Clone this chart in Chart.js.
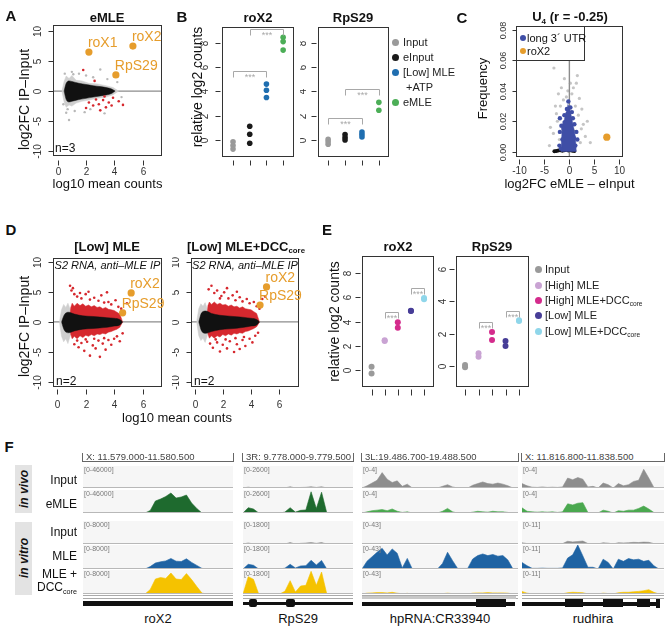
<!DOCTYPE html>
<html><head><meta charset="utf-8"><title>MLE RNA binding figure</title>
<script src="https://cdn.jsdelivr.net/npm/chart.js"></script>
<style>
html,body{margin:0;padding:0;background:#fff;}
body{position:relative;width:669px;height:627px;overflow:hidden;font-family:"Liberation Sans",Arial,Helvetica,sans-serif;color:#111;}
canvas{position:absolute;}
.t{position:absolute;white-space:nowrap;line-height:1;}
sub{font-size:0.6em;vertical-align:-0.35em;line-height:0;}
</style></head><body>
<script>
// ================= DATA =================
// Panel A (eMLE MA plot)
const A_xTicks=[0,2,4,6], A_xLabels=['0','2','4','6'];
const A_yTicks=[-10,-5,0,5,10], A_yLabels=['-10','-5','0','5','10'];
const A_genes=['roX1','roX2','RpS29'], A_geneX=[2.2,5.3,4.1], A_geneY=[6.5,7.5,2.7];
const A_cloudX=[0.45,0.6,0.8,1.0,1.5,2.0,2.5,3.0,3.5,3.8,4.05];
const A_cloudUp=[0,1.3,1.7,1.6,1.3,1.1,0.9,0.75,0.55,0.35,0];
const A_cloudLo=[0,-1.4,-1.8,-1.7,-1.4,-1.2,-1.0,-0.8,-0.6,-0.4,0];
const A_haloX=[0.3,0.45,0.6,0.8,1.0,1.3,1.7,2.2,2.8,3.4,3.9,4.3];
const A_haloUp=[0,1.6,2.5,2.1,2.6,1.8,1.7,1.3,1.2,0.9,0.6,0];
const A_haloLo=[0,-1.8,-2.7,-2.3,-2.5,-2.0,-1.7,-1.5,-1.2,-1.0,-0.6,0];
const A_redX=[1.8,2.6,2.2,2.5,2.9,3.2,3.4,3.0,3.6,3.9,4.3,4.6,3.8,2.7,3.3,2.0];
const A_redY=[3.5,1.7,-1.9,-2.4,-2.2,-1.5,-2.7,-3.2,-1.9,-1.1,-1.7,-2.3,-2.4,-1.4,-0.9,-2.8];
const A_grayX=[0.8,3.0,2.0,1.5,2.5,1.2,3.5,4.2,4.5,1.0,3.3,2.3,0.6,1.9,0.5,0.7,1.1,0.4];
const A_grayY=[-4.8,3.6,2.6,2.9,2.3,-3.3,2.0,1.5,-1.0,3.2,-3.7,-3.0,-3.6,-3.5,2.9,-3.0,2.8,-2.2];

// Panel B (relative log2 counts)
const B_groups=['Input','eInput','[Low] MLE','eMLE'];
const B_yTicks=[0,2,4,6,8], B_yLabels=['0','2','4','6','8'];
const B_roX2=[[-0.15,-0.45,-0.75],[1.13,0.47,-0.27],[4.6,4.1,3.5],[8.45,8.1,7.4]];
const B_RpS29=[[0.05,-0.15,-0.35],[0.45,0.2,0.0],[0.65,0.45,0.25],[3.1,2.45]];
const B_roX2_sig=[[1,3,5.7],[2,4,9.1]];
const B_RpS29_sig=[[1,3,1.8],[2,4,4.2]];

// Panel C (U4 frequency vs log2FC)
const C_xTicks=[-10,-5,0,5,10], C_xLabels=['-10','-5','0','5','10'];
const C_yTicks=[0,0.02,0.04,0.06,0.08], C_yLabels=['0.00','0.02','0.04','0.06','0.08'];
const C_blobX=[-1.7,-1.5,-1.3,-1.0,-0.8,-0.5,-0.3,0,0.3,0.6,0.9,1.2,1.4];
const C_blobTop=[0,0.012,0.02,0.021,0.025,0.027,0.031,0.029,0.025,0.02,0.015,0.01,0];
const C_blueX=[-1.9,-1.9,1.4,1.6,-2.0,-1.6,-1.4,1.0,0.7,-1.0,-0.5,0.2,-0.2,1.2,-1.7,0.5,-1.2,0.9];
const C_blueY=[0.022,0.013,0.013,0.008,0.004,0.017,0.008,0.018,0.022,0.024,0.028,0.029,0.033,0.004,0.002,0.026,0.015,0.009];
const C_grayX=[-3.1,1.4,-1.0,0.8,-2.2,2.0,-2.8,2.5,-2.4,2.8,-3.2,3.2,-2.0,2.2,1.8,-1.8,0.5,-0.6,3.6,-3.8,4.2,-4.0,1.2,-1.2,-2.6,2.4,-0.3,0.2,1.6,-1.6];
const C_grayY=[0.055,0.045,0.048,0.042,0.038,0.035,0.03,0.028,0.02,0.018,0.012,0.01,0.008,0.006,0.024,0.03,0.038,0.036,0.02,0.016,0.006,0.004,0.03,0.034,0.025,0.015,0.04,0.045,0.05,0.042];
const C_blackX=[-3.0,-2.6,-2.2,-1.8,-1.4,-1.0,-0.6,-0.2,0.2,0.6,1.0,-0.4,0.3,-1.1,0.6,-0.2,0.1,-0.8,0.9,-1.6];
const C_blackY=[0.0003,0.0005,0.0008,0.001,0.0006,0.001,0.0012,0.0008,0.001,0.0006,0.0004,0.006,0.004,0.012,0.014,0.02,0.009,0.003,0.002,0.0015];
const C_roX2X=[7.5], C_roX2Y=[0.0095];
const C_legend=['long 3\u00b4 UTR','roX2'];

// Panel D (S2 RNA, anti-MLE IP MA plots)
const D_xTicks=[0,2,4,6], D_xLabels=['0','2','4','6'];
const D_yTicks=[-10,-5,0,5,10], D_yLabels=['-10','-5','0','5','10'];
const D1_genes=['roX2','RpS29'], D1_geneX=[5.2,4.6], D1_geneY=[4.8,1.5];
const D2_genes=['roX2','RpS29'], D2_geneX=[5.1,4.64], D2_geneY=[5.8,2.8];
const D_cloudX=[0.3,0.5,0.8,1.2,1.8,2.5,3.0,3.5,4.0,4.4,4.6];
const D1_cloudUp=[0,1.2,1.6,1.3,1.0,0.9,0.8,0.7,0.6,0.4,0];
const D1_cloudLo=[0,-1.4,-1.8,-1.5,-1.2,-1.1,-1.0,-0.9,-0.7,-0.5,0];
const D2_cloudUp=[0,1.5,1.8,1.4,1.1,0.95,0.85,0.75,0.6,0.4,0];
const D2_cloudLo=[0,-1.5,-1.9,-1.6,-1.3,-1.15,-1.05,-0.9,-0.7,-0.5,0];
const D_haloX=[0.15,0.3,0.45,0.6,0.75,0.9,1.1];
const D1_haloUp=[0,2.0,2.9,2.4,3.1,2.2,0], D1_haloLo=[0,-2.4,-3.3,-2.8,-3.6,-2.4,0];
const D2_haloUp=[0,2.2,3.0,2.6,3.2,2.2,0], D2_haloLo=[0,-2.3,-3.1,-2.7,-3.4,-2.3,0];
const D_bandX=[0.85,0.95,1.05,1.2,1.4,1.6,1.8,2.0,2.2,2.4,2.6,2.8,3.0,3.2,3.4,3.6,3.8,4.0,4.2,4.4,4.6];
const D1_bandUp=[0,2.4,3.1,2.6,3.1,2.7,3.0,2.6,2.8,2.5,2.7,2.4,2.5,2.2,2.4,2.1,2.0,1.9,1.6,1.3,0];
const D1_bandLo=[0,-2.1,-2.8,-2.4,-2.8,-2.3,-2.6,-2.2,-2.4,-2.1,-2.3,-2.0,-2.1,-1.9,-2.0,-1.7,-1.6,-1.4,-1.2,-0.9,0];
const D2_bandUp=[0,2.7,3.3,2.9,3.3,2.9,3.1,2.8,2.9,2.6,2.8,2.5,2.6,2.3,2.5,2.2,2.1,2.0,1.7,1.4,0];
const D2_bandLo=[0,-2.0,-2.7,-2.3,-2.7,-2.3,-2.5,-2.1,-2.3,-2.0,-2.2,-1.9,-2.0,-1.8,-1.9,-1.6,-1.5,-1.3,-1.1,-0.8,0];
const D1_redX=[0.9,1.0,1.2,1.1,1.4,1.7,2.0,2.3,2.6,2.9,3.1,3.3,3.6,3.8,4.1,4.3,4.5,2.2,1.6,3.5,4.9,4.7,1.2,1.5,1.7,1.9,2.1,2.3,2.5,2.7,2.9,3.0,3.2,3.4,3.6,3.8,4.0,4.2,4.4,2.0,2.6,3.3,1.4,4.6];
const D1_redY=[6.0,5.2,4.6,5.6,4.2,3.9,4.6,3.7,4.0,3.5,4.4,3.2,3.3,2.9,3.6,2.5,2.2,5.0,4.8,4.9,3.1,1.8,-3.7,-4.2,-3.5,-4.8,-3.3,-5.6,-3.9,-4.4,-3.1,-5.8,-3.6,-4.6,-3.0,-3.8,-2.8,-2.4,-3.2,-2.9,-2.8,-2.7,-3.1,-1.9];
const D2_redX=[1.0,1.2,1.4,1.6,1.9,2.1,2.4,2.7,2.9,3.2,3.4,3.7,3.9,4.2,4.4,4.8,5.0,4.6,2.3,3.0,1.8,1.1,1.3,1.6,1.8,2.0,2.3,2.5,2.8,3.0,3.2,3.4,3.6,3.9,4.1,4.3,2.2,2.9,3.5,4.5,1.5];
const D2_redY=[5.4,6.0,4.8,5.2,4.3,4.9,3.9,4.4,3.6,4.1,3.4,3.8,3.1,3.3,2.6,3.8,4.2,2.2,5.6,5.0,3.9,-3.6,-4.3,-3.4,-4.9,-3.8,-4.4,-3.2,-5.0,-3.7,-4.5,-3.0,-4.0,-2.8,-3.4,-2.3,-2.9,-2.7,-2.5,-1.8,-2.9];

// Panel E (in vitro relative log2 counts)
const E_groups=['Input','[High] MLE','[High] MLE+DCC<sub>core</sub>','[Low] MLE','[Low] MLE+DCC<sub>core</sub>'];
const E_roX2=[[0.28,-0.27],[2.42,2.47],[3.95,3.5],[4.88,4.9],[5.85,5.95]];
const E_RpS29=[[0.05,-0.1],[0.77,0.56],[2.1,1.6],[1.53,1.22],[2.78,2.82]];
const E_roX2_sig=[[2,3,4.8],[4,5,6.8]];
const E_RpS29_sig=[[2,3,2.7],[4,5,3.42]];
const E_roX2_yTicks=[0,2,4,6,8], E_roX2_yLabels=['0','2','4','6','8'];
const E_RpS29_yTicks=[0,2,4,6], E_RpS29_yLabels=['0','2','4','6'];

// Panel F (genome browser tracks)
const F_regions=['X: 11.579.000-11.580.500','3R: 9.778.000-9.779.500','3L:19.486.700-19.488.500','X: 11.816.800-11.838.500'];
const F_genes=['roX2','RpS29','hpRNA:CR33940','rudhira'];
const F_rowNames=['Input','eMLE','Input','MLE','MLE +'];
const F_max=[[46000,46000,8000,8000,8000],[2600,2600,1800,1800,1800],[4,4,43,43,43],[4,4,11,11,11]];
const F1_vivoIn=[0,0,0,0,0,0,0,0,0,0,0,0,0,0,0,0,0,0,0,0,0,0,0,0,0,0,0,0,0,0];
const F1_eMLE=[0,0,600,0,0,0,0,500,0,0,500,0,0,5000,24000,28000,33000,40000,30000,32000,36000,20000,9000,0,0,0,0,0,0,0];
const F1_vitroIn=[0,0,0,0,0,0,0,0,0,0,0,0,0,0,0,0,0,0,0,0,0,0,0,0,0,0,0,0,0,0];
const F1_MLE=[0,0,0,0,0,0,0,150,0,0,0,0,0,800,2000,2400,2700,3500,2600,2500,3400,2200,1200,200,0,0,0,0,0,0];
const F1_DCC=[0,0,0,0,0,0,150,150,150,0,0,0,0,1500,5000,5500,5200,7000,5000,4800,6800,4800,2500,300,0,0,0,0,0,0];
const F2_vivoIn=[0,100,0,0,0,0,0,0,0,150,0,60,80,150,60,150,0,0,0,0,0,0];
const F2_eMLE=[0,600,450,0,0,0,0,0,100,600,100,300,350,2400,500,2350,0,0,0,0,0,0];
const F2_vitroIn=[0,80,0,0,0,0,0,0,0,110,0,50,70,110,50,110,0,0,0,0,0,0];
const F2_MLE=[0,350,280,0,0,0,0,0,60,350,80,230,250,650,300,640,0,0,0,0,0,0];
const F2_DCC=[0,1300,1100,0,0,0,0,0,200,1000,150,600,650,1700,650,1650,0,0,0,0,0,0];
const F3_vivoIn=[0,0.4,0.9,1.4,2.8,1.6,1.0,1.3,0.3,0.7,0,0,0,0,0,0,0.3,0.6,0.2,0,0,0,0.5,0.8,1.1,0.8,0.7,0.9,0.7,0.4,0,0];
const F3_eMLE=[0,0.2,0.4,0.5,0.6,0.4,0.7,0.3,0.1,0.2,0,0,0,0,0,0,0.3,0.8,0.2,0,0,0,0.15,0.3,0.2,0.15,0.3,0.2,0.2,0.1,0,0];
const F3_vitroIn=[0,0.4,0.5,0.5,0.6,0.5,0.5,0.4,0.2,0.4,0,0,0,0,0,0,0.2,0.3,0,0,0,0,0.3,0.3,0.3,0.3,0.3,0.3,0.3,0.2,0,0];
const F3_MLE=[0,14,22,30,37,25,36,28,2,19,0,0,0,0,0,0,10,30,15,1,1,1,18,24,27,24,26,23,24,16,0,0];
const F3_DCC=[0,1.5,2,2.5,2.5,2,3,1.5,0.3,1.2,0,0,0,0,0,0,0.6,1.5,0.6,0,0,0,1.5,2,2,2.5,2,2,2,1.5,0,0];
const F4_vivoIn=[0.8,0.4,0.15,0.1,0.2,0.1,0.15,0.1,0.2,1.8,1.5,1.9,1.6,0.2,0.3,0,0.9,0.6,0,0.8,0.4,0.6,1.2,1.4,3.4,1.8,0.1,0,0];
const F4_eMLE=[0.9,0.3,0.2,0.15,0.2,0.15,0.2,0.1,0.2,1.6,1.4,1.7,1.8,0.1,0,0,0.5,0.3,0,0.4,0.3,0.5,0.5,0.8,1.2,0.7,0.1,0,0];
const F4_vitroIn=[0.6,0.2,0,0,0,0,0,0,0.2,1.3,1.0,1.2,1.4,0.2,0,0,0.6,0.4,0,0.6,0.5,0.6,0.8,0.7,0.9,0.8,0.2,0,0];
const F4_MLE=[3,1.5,0.3,0.3,0.4,0.3,0.3,0.3,0.5,5,6.5,11,6,0.8,0.8,0,4.5,3,0,4.5,3.5,4.8,4.2,4.5,3.5,4,1.5,0,0];
const F4_DCC=[1.2,0.4,0,0,0,0,0,0,0.1,0.6,0.8,0.7,0.6,0,0,0,0.4,0.2,0,0.6,0.8,0.8,1.0,1.2,1.5,2.0,0.8,0,0];

// ================= STYLE / HELPERS =================
const FF='"Liberation Sans", Arial, Helvetica, sans-serif';
const ORANGE='#e69d2c', RED='#d6282e', BLACK='#111111', HALO='#cfcfcf';
const B_colors=['#9a9a9a','#1a1a1a','#1f6eb0','#4cae57'];
const E_colors=['#9a9a9a','#c9a3d3','#d42b8c','#473d97','#8fd6ea'];

function canvasAt(x,y,w,h){const c=document.createElement('canvas');c.width=w;c.height=h;c.style.left=x+'px';c.style.top=y+'px';c.style.width=w+'px';c.style.height=h+'px';document.body.appendChild(c);return c;}
function T(html,x,y,css,al){const d=document.createElement('div');d.className='t';d.innerHTML=html;const tx=al==='l'?'0':(al==='r'?'-100%':'-50%');d.style.cssText+='left:'+x+'px;top:'+y+'px;transform:translate('+tx+',-50%);'+(css||'');document.body.appendChild(d);return d;}
function R(x,y,w,h,css){const d=document.createElement('div');d.style.cssText='position:absolute;left:'+x+'px;top:'+y+'px;width:'+w+'px;height:'+h+'px;'+(css||'');document.body.appendChild(d);return d;}
const XY=(xs,ys)=>xs.map((x,i)=>({x:x,y:ys[i]}));
const band=(xs,ys,color,smooth)=>({data:XY(xs,ys),showLine:true,fill:'origin',backgroundColor:color,borderColor:color,borderWidth:0.5,pointRadius:0,
  cubicInterpolationMode:smooth?'monotone':'default',tension:0});
const dots=(xs,ys,color,r)=>({data:XY(xs,ys),backgroundColor:color,borderWidth:0,pointRadius:r});
const groupDots=(vals,g,color,r)=>({data:vals.map(v=>({x:g+1,y:v})),backgroundColor:color,borderWidth:0,pointRadius:r});

function axesPlugin(o){
  const F=(s)=>s+'px '+FF;
  return {id:'raxes',
    beforeDatasetsDraw(ch){const ctx=ch.ctx,c=ch.chartArea,x=ch.scales.x,y=ch.scales.y;ctx.save();ctx.strokeStyle='#8c8c8c';ctx.lineWidth=1.4;
      if(o.hline!==undefined){const p=y.getPixelForValue(o.hline);ctx.beginPath();ctx.moveTo(c.left,p);ctx.lineTo(c.right,p);ctx.stroke();}
      if(o.vline!==undefined){const p=x.getPixelForValue(o.vline);ctx.beginPath();ctx.moveTo(p,c.top);ctx.lineTo(p,c.bottom);ctx.stroke();}
      ctx.restore();},
    afterDraw(ch){const ctx=ch.ctx,c=ch.chartArea,x=ch.scales.x,y=ch.scales.y;ctx.save();
      ctx.strokeStyle='#333';ctx.fillStyle='#333';ctx.lineWidth=1;
      const L=Math.round(c.left)+0.5,Tp=Math.round(c.top)+0.5,Rr=Math.round(c.right)-0.5,B=Math.round(c.bottom)-0.5;
      ctx.strokeRect(L,Tp,Rr-L,B-Tp);
      ctx.textAlign='center';ctx.textBaseline='middle';ctx.font=F(o.tf||10);
      (o.xt||[]).forEach((v,i)=>{const p=Math.round(x.getPixelForValue(v))+0.5;ctx.beginPath();ctx.moveTo(p,B+o.xg);ctx.lineTo(p,B+o.xg+o.xl);ctx.stroke();if(o.xlab)ctx.fillText(o.xlab[i],p,B+o.xlo);});
      ctx.font=F(o.ytf||o.tf||10);
      (o.yt||[]).forEach((v,i)=>{const p=Math.round(y.getPixelForValue(v))+0.5;ctx.beginPath();ctx.moveTo(L-o.yg,p);ctx.lineTo(L-o.yg-o.yl,p);ctx.stroke();if(o.ylab){ctx.save();ctx.translate(L-o.ylo,p);ctx.rotate(-Math.PI/2);ctx.fillText(o.ylab[i],0,0);ctx.restore();}});
      ctx.fillStyle='#111';
      if(o.xtitle){ctx.font=F(13);ctx.fillText(o.xtitle,(L+Rr)/2,B+o.xto);}
      if(o.ytitle){ctx.save();ctx.font=F(o.ytitleF||14);ctx.translate(L-o.yto,(Tp+B)/2+(o.ytc||0));ctx.rotate(-Math.PI/2);ctx.fillText(o.ytitle,0,0);ctx.restore();}
      if(o.lab){ctx.font=F(14);ctx.fillStyle=ORANGE;ctx.textAlign='left';ctx.textBaseline='bottom';o.lab.t.forEach((t,i)=>ctx.fillText(t,x.getPixelForValue(o.lab.x[i])-1,y.getPixelForValue(o.lab.y[i])-2));}
      if(o.br){ctx.strokeStyle='#a8a8a8';ctx.fillStyle='#a8a8a8';ctx.font=F(9);ctx.textAlign='center';ctx.textBaseline='top';
        o.br.forEach(b=>{const x1=Math.round(x.getPixelForValue(b[0]))+0.5,x2=Math.round(x.getPixelForValue(b[1]))+0.5,p=Math.round(y.getPixelForValue(b[2]))+0.5;ctx.beginPath();ctx.moveTo(x1,p+o.brh);ctx.lineTo(x1,p);ctx.lineTo(x2,p);ctx.lineTo(x2,p+o.brh);ctx.stroke();ctx.fillText('***',(x1+x2)/2,p+1.5);});}
      ctx.restore();}
  };
}
function plot(cv,bx,xr,yr,datasets,o){
  const c=canvasAt(cv[0],cv[1],cv[2],cv[3]);
  return new Chart(c,{type:'scatter',data:{datasets:datasets},options:{responsive:false,animation:false,devicePixelRatio:1,events:[],
    layout:{padding:{left:bx[0]-cv[0],top:bx[1]-cv[1],right:cv[0]+cv[2]-bx[2],bottom:cv[1]+cv[3]-bx[3]}},
    scales:{x:{type:'linear',display:false,min:xr[0],max:xr[1]},y:{type:'linear',display:false,min:yr[0],max:yr[1]}},
    plugins:{legend:{display:false},tooltip:{enabled:false}}},plugins:[axesPlugin(o)]});
}

// ================= PANEL A =================
plot([0,20,172,185],[53,25,162,156],[-0.33,7.35],[-10.8,11.0],[
  dots(A_geneX,A_geneY,ORANGE,3.6),
  dots(A_redX,A_redY,RED,1.3),
  band(A_cloudX,A_cloudUp,BLACK,true),band(A_cloudX,A_cloudLo,BLACK,true),
  dots(A_grayX,A_grayY,'#b8b8b8',1.2),
  band(A_haloX,A_haloUp,HALO),band(A_haloX,A_haloLo,HALO)
],{xt:A_xTicks,xlab:A_xLabels,xg:5,xl:5,xlo:17,yt:A_yTicks,ylab:A_yLabels,yg:0,yl:5,ylo:15,
  xtitle:'log10 mean counts',xto:29,ytitle:'log2FC IP\u2013Input',yto:28,ytc:9,hline:0,lab:{t:A_genes,x:A_geneX,y:A_geneY}});

// ================= PANEL B =================
plot([170,20,132,160],[222,27,294,157],[0.34,4.65],[-1.4,9.3],
  B_roX2.map((v,g)=>groupDots(v,g,B_colors[g],2.8)),
  {xt:[1,2,3,4],xg:4,xl:5,yt:B_yTicks,ylab:B_yLabels,yg:2,yl:5,ylo:17,ytitle:'relative log2 counts',yto:24,ytc:-5,br:B_roX2_sig,brh:6});
plot([300,20,95,160],[318,27,389,157],[0.4,4.6],[-1.4,9.3],
  B_RpS29.map((v,g)=>groupDots(v,g,B_colors[g],2.8)),
  {xt:[1,2,3,4],xg:4,xl:5,yt:B_yTicks,ylab:B_yLabels,yg:2,yl:5,ylo:15,br:B_RpS29_sig,brh:6});

// ================= PANEL C =================
plot([460,20,209,182],[516,26,623,157],[-10.7,10.75],[-0.0035,0.0826],[
  dots(C_roX2X,C_roX2Y,ORANGE,3.6),
  dots(C_blueX,C_blueY,'#3f4ea6',2.2),
  band(C_blobX,C_blobTop,'#3f4ea6'),
  dots(C_blackX,C_blackY,'#111',2),
  dots(C_grayX,C_grayY,'rgba(150,150,150,0.55)',1.6)
],{xt:C_xTicks,xlab:C_xLabels,xg:3,xl:5,xlo:15,yt:C_yTicks,ylab:C_yLabels,ytf:9,yg:0,yl:4,ylo:13,
  xtitle:'log2FC eMLE \u2013 eInput',xto:28,ytitle:'Frequency',ytitleF:13,yto:33,ytc:-3,vline:0});

// ================= PANEL D =================
plot([0,250,172,175],[53,258,162,387],[-0.3,7.37],[-10.8,10.6],[
  dots(D1_geneX,D1_geneY,ORANGE,3.6),
  band(D_cloudX,D1_cloudUp,BLACK,true),band(D_cloudX,D1_cloudLo,BLACK,true),
  dots(D1_redX,D1_redY,RED,1.3),
  band(D_bandX,D1_bandUp,RED),band(D_bandX,D1_bandLo,RED),
  band(D_haloX,D1_haloUp,HALO),band(D_haloX,D1_haloLo,HALO)
],{xt:D_xTicks,xlab:D_xLabels,xg:3,xl:5,xlo:19,yt:D_yTicks,ylab:D_yLabels,yg:0,yl:5,ylo:15,
  ytitle:'log2FC IP\u2013Input',yto:28,ytc:4,hline:0,lab:{t:D1_genes,x:D1_geneX,y:D1_geneY}});
plot([172,250,133,175],[191,258,299,387],[-0.25,7.4],[-10.8,10.6],[
  dots(D2_geneX,D2_geneY,ORANGE,3.6),
  band(D_cloudX,D2_cloudUp,BLACK,true),band(D_cloudX,D2_cloudLo,BLACK,true),
  dots(D2_redX,D2_redY,RED,1.3),
  band(D_bandX,D2_bandUp,RED),band(D_bandX,D2_bandLo,RED),
  band(D_haloX,D2_haloUp,HALO),band(D_haloX,D2_haloLo,HALO)
],{xt:D_xTicks,xlab:D_xLabels,xg:3,xl:5,xlo:19,yt:D_yTicks,ylab:D_yLabels,yg:0,yl:5,ylo:15,
  hline:0,lab:{t:D2_genes,x:D2_geneX,y:D2_geneY}});

// ================= PANEL E =================
plot([320,245,118,160],[362,256,435,387],[0.27,5.76],[-1.38,9.42],
  E_roX2.map((v,g)=>groupDots(v,g,E_colors[g],3)),
  {xt:[1,2,3,4,5],xg:3,xl:6,yt:E_roX2_yTicks,ylab:E_roX2_yLabels,yg:2,yl:5,ylo:14,ytitle:'relative log2 counts',yto:27,br:E_roX2_sig,brh:6});
plot([438,245,95,160],[456,256,529,387],[0.33,5.74],[-1.32,6.81],
  E_RpS29.map((v,g)=>groupDots(v,g,E_colors[g],3)),
  {xt:[1,2,3,4,5],xg:3,xl:6,yt:E_RpS29_yTicks,ylab:E_RpS29_yLabels,yg:2,yl:5,ylo:13,br:E_RpS29_sig,brh:6});

// ================= PANEL F =================
const F_tracks=[[F1_vivoIn,F1_eMLE,F1_vitroIn,F1_MLE,F1_DCC],[F2_vivoIn,F2_eMLE,F2_vitroIn,F2_MLE,F2_DCC],
                [F3_vivoIn,F3_eMLE,F3_vitroIn,F3_MLE,F3_DCC],[F4_vivoIn,F4_eMLE,F4_vitroIn,F4_MLE,F4_DCC]];
const colX=[83,243,362,522], colW=[150,110,156,142];
const rowY=[466,490,521,545,570], rowH=[22,23,23,24,24];
const trackColor=(c,r)=>['#8e8e8e',(c<2?'#1e6a2e':'#4aa84f'),'#8e8e8e','#1f63a3','#f5c200'][r];
function trackDeco(label){return {id:'trk',
  beforeDraw(ch){const ctx=ch.ctx,c=ch.chartArea;ctx.save();ctx.fillStyle='#f6f6f6';ctx.fillRect(c.left,c.top,c.width,c.height);ctx.restore();},
  afterDraw(ch){const ctx=ch.ctx,c=ch.chartArea;ctx.save();ctx.strokeStyle='#b8b8b8';ctx.lineWidth=1;ctx.beginPath();ctx.moveTo(c.left,c.bottom-0.5);ctx.lineTo(c.right,c.bottom-0.5);ctx.stroke();
    ctx.fillStyle='#7a7a7a';ctx.font='7px '+FF;ctx.textAlign='left';ctx.textBaseline='top';ctx.fillText(label,c.left+1,c.top+1);ctx.restore();}};}
for(let c=0;c<4;c++){for(let r=0;r<5;r++){
  const d=F_tracks[c][r], col=trackColor(c,r);
  const cv=canvasAt(colX[c],rowY[r],colW[c],rowH[r]);
  new Chart(cv,{type:'line',data:{labels:d.map((_,i)=>i),datasets:[{data:d,fill:'origin',backgroundColor:col,borderColor:col,borderWidth:0.6,pointRadius:0,tension:0}]},
    options:{responsive:false,animation:false,devicePixelRatio:1,events:[],layout:{padding:0},
      scales:{x:{display:false},y:{display:false,min:0,max:F_max[c][r]}},plugins:{legend:{display:false},tooltip:{enabled:false}}},
    plugins:[trackDeco('[0-'+F_max[c][r]+']')]});
}}

// ================= HTML TEXT / DECORATION =================
const LET='font:bold 15px '+FF+';';
T('A',11,15,LET);T('B',182,16,LET);T('C',462,17,LET);T('D',11,229,LET);T('E',327,229,LET);T('F',9,446,LET);
const TT='font:bold 13px '+FF+';';
T('eMLE',107,17,TT);T('roX2',258,17,TT);T('RpS29',353,17,TT);
T('U<span style="font-size:8px;vertical-align:-3px">4</span> (r = -0.25)',570,17,TT);
T('[Low] MLE',107,246,TT);T('[Low] MLE+DCC<sub>core</sub>',246,246,TT);
T('roX2',398,246,TT);T('RpS29',492,246,TT);
// in-plot annotations
T('n=3',55,148,'font:12px '+FF+';','l');
T('n=2',56,381,'font:12px '+FF+';','l');T('n=2',194,381,'font:12px '+FF+';','l');
T('S2 RNA, anti\u2013MLE IP',107.5,264.5,'font:italic 11px '+FF+';');
T('S2 RNA, anti\u2013MLE IP',245,264.5,'font:italic 11px '+FF+';');
T('log10 mean counts',177,417,'font:13px '+FF+';');
// legend B
const B_legRows=[42,57,72,102];
B_groups.forEach((g,i)=>{R(392,B_legRows[i]-3.5,7,7,'border-radius:50%;background:'+B_colors[i]+';');T(g,403,B_legRows[i],'font:11px '+FF+';color:#222;','l');});
T('+ATP',406,87,'font:11px '+FF+';color:#222;','l');
// legend E
const E_legRows=[269,285,300,315,331];
E_groups.forEach((g,i)=>{R(535,E_legRows[i]-3.5,7,7,'border-radius:50%;background:'+E_colors[i]+';');T(g,545,E_legRows[i],'font:11px '+FF+';color:#222;','l');});
// legend C
R(516,26,69,35,'background:#fff;border:1px solid #333;box-sizing:border-box;');
R(520,35,6,6,'border-radius:50%;background:#3f4ea6;');T(C_legend[0],527,38,'font:11px '+FF+';','l');
R(520,48,6,6,'border-radius:50%;background:'+ORANGE+';');T(C_legend[1],527,51,'font:11px '+FF+';','l');
// F labels
R(15,465,17,48,'background:#e3e3e3;');R(15,522,17,73,'background:#e3e3e3;');
const VT='font:bold italic 12px '+FF+';transform:translate(-50%,-50%) rotate(-90deg);';
T('in vivo',23.5,489,VT);T('in vitro',23.5,558,VT);
const RL='font:12px '+FF+';';
const F_rowLabY=[480,504,532,556,574];
F_rowNames.forEach((n,i)=>T(n,77,F_rowLabY[i],RL,'r'));
T('DCC<sub>core</sub>',77,587,RL,'r');
for(let c=0;c<4;c++){
  R(colX[c]-1,453,colW[c],8,'border-left:1px solid #666;border-right:1px solid #666;border-bottom:1px solid #666;');
  T(F_regions[c],colX[c]+3,456,'font:9.5px '+FF+';color:#444;','l');
  R(colX[c],595,colW[c],2,'border-top:1px solid #aaa;border-bottom:1px solid #aaa;');
  T(F_genes[c],colX[c]+colW[c]/2,618,'font:13px '+FF+';');
}
R(362,596,154,3,'background:#c8c8c8;');
// gene models
R(83,601,150,5,'background:#111;');
R(243,602,110,3,'background:#111;');R(249,599,8,8,'background:#111;border-radius:2px;');R(286,599,9,8,'background:#111;border-radius:2px;');
R(362,602,153,4,'background:#111;');R(476,599,30,8,'background:#111;');
R(522,602,136,4,'background:#111;');R(565,599,18,8,'background:#111;');R(603,599,20,8,'background:#111;');R(637,599,13,8,'background:#111;');R(656,599,4,9,'background:#111;');
</script></body></html>
